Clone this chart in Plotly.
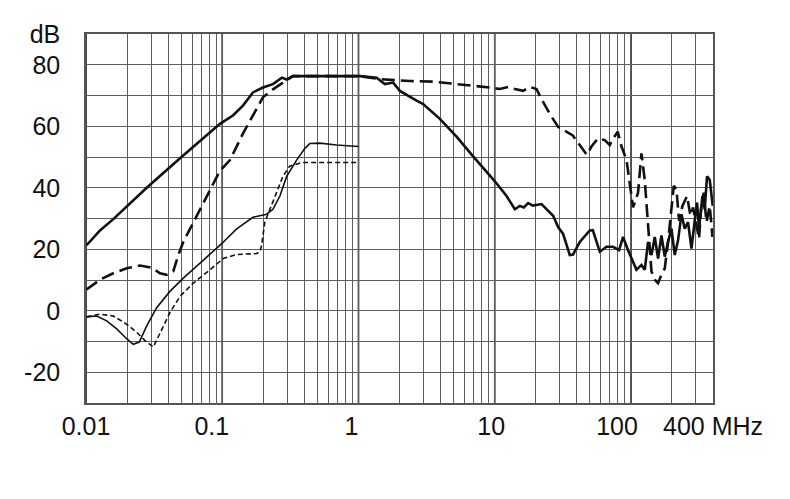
import numpy as np
import plotly.graph_objects as go

# Frequencies in MHz, levels in dB
freq_a = [0.0101, 0.01267, 0.01586, 0.0279, 0.049, 0.0962, 0.1198, 0.1419, 0.168, 0.1989,
          0.2355, 0.2742, 0.297, 0.33, 0.617, 1.024, 1.358, 1.562, 1.797, 2.013, 2.669,
          2.984, 3.956, 5.245, 6.941, 8.707, 10.02, 12.21, 14.05, 15.28, 16.35, 17.58,
          19.04, 22.05, 23.99, 26.83, 29.19, 31.76, 35.56, 37.6, 42.11, 49.86, 52.45,
          59.03, 66.12, 73.9, 81.8, 87.5, 95.2, 109.7, 119.4, 126.2, 133.5, 141.4, 149.5,
          158.1, 167.4, 177.0, 187.2, 198.2, 209.6, 221.6, 234.7, 248.1, 262.4, 277.9,
          293.8, 305.5, 315.9, 334.6, 347.8, 361.6, 378.5, 398.2]
db_a = [21.3, 26.1, 29.8, 40.0, 49.6, 60.8, 63.5, 66.7, 71.0, 72.6,
        73.7, 75.8, 75.2, 76.3, 76.3, 76.3, 75.8, 73.7, 74.2, 71.5, 68.3,
        67.2, 62.4, 56.6, 50.2, 45.4, 42.1, 37.3, 33.0, 34.1, 33.6, 35.0,
        34.2, 34.7, 33.0, 30.9, 27.2, 25.0, 18.1, 18.3, 22.4, 26.1, 26.2,
        19.2, 20.8, 20.8, 19.7, 24.0, 19.7, 13.3, 14.9, 13.3, 22.4, 18.1, 24.0,
        17.0, 24.5, 17.6, 22.4, 26.7, 18.1, 22.9, 31.4, 26.7, 28.8, 20.2,
        29.3, 35.2, 26.7, 37.3, 33.0, 43.7, 42.6, 34.1]

freq_b = [0.0101, 0.01267, 0.01586, 0.01989, 0.0249, 0.0303, 0.0349, 0.0391, 0.0437, 0.0476,
          0.0518, 0.0686, 0.0962, 0.1139, 0.1419, 0.168, 0.1989, 0.2355, 0.2788, 0.33,
          0.617, 1.024, 1.435, 2.384, 3.534, 4.953, 6.941, 9.21, 10.9, 12.54, 14.05,
          16.16, 18.1, 20.26, 22.05, 25.37, 29.19, 37.4, 47.4, 51.3, 57.07, 64.23, 69.9,
          73.9, 80.0, 85.2, 92.7, 98.0, 103.6, 112.7, 119.4, 126.2, 133.5, 141.4, 149.5,
          158.1, 167.4, 177.0, 187.2, 198.2, 206.1, 215.7, 225.4, 238.7, 258.0, 273.3,
          285.6, 315.9, 329.0, 342.1, 358.1, 378.5, 396.2]
db_b = [6.9, 10.1, 12.2, 13.8, 14.7, 14.0, 12.2, 11.7, 12.8, 18.1,
        22.4, 33.0, 45.5, 49.0, 57.6, 63.5, 69.4, 72.0, 74.2, 76.3,
        76.3, 76.3, 75.3, 74.7, 74.5, 73.9, 73.1, 72.6, 72.1, 72.8, 72.1,
        71.5, 72.8, 72.1, 68.8, 64.0, 59.8, 57.0, 50.7, 53.4, 56.0, 55.5, 53.9,
        56.0, 58.2, 53.4, 49.1, 41.6, 33.6, 38.4, 51.2, 42.6, 26.7, 12.8, 10.1,
        9.0, 11.7, 13.8, 22.4, 32.0, 40.6, 39.5, 29.3, 34.1, 37.3, 30.9,
        33.6, 23.4, 34.7, 38.4, 28.8, 34.1, 24.0]

freq_c = [0.0101, 0.01198, 0.01419, 0.0168, 0.01989, 0.02223, 0.0246, 0.0279, 0.033, 0.0413,
          0.0518, 0.0686, 0.0859, 0.099, 0.1276, 0.168, 0.2118, 0.2355, 0.265, 0.297,
          0.3515, 0.4045, 0.44, 0.521, 0.691, 1.0]
db_c = [-2.0, -1.7, -3.3, -5.9, -9.1, -10.9, -10.2, -4.9, 1.0, 6.3,
        10.6, 15.4, 19.2, 21.8, 26.6, 30.4, 31.4, 33.0, 37.3, 43.7,
        49.0, 52.8, 54.4, 54.5, 53.9, 53.4]

freq_d = [0.0101, 0.01267, 0.01586, 0.01989, 0.02355, 0.0271, 0.0312, 0.0349, 0.0413, 0.049,
          0.0613, 0.0813, 0.1017, 0.1276, 0.1788, 0.1887, 0.1946, 0.2054, 0.2355, 0.2788,
          0.3127, 0.3824, 1.0]
db_d = [-2.0, -1.1, -1.7, -4.4, -7.0, -9.7, -11.8, -7.5, -0.6, 4.7,
        9.0, 13.3, 17.0, 18.3, 18.6, 19.2, 21.3, 28.8, 35.2, 43.7,
        47.0, 48.2, 48.2]

# Axis ticks (non-breaking spaces nudge the labels as in the original)
NB = "\u00a0"
x_label_vals = [0.01, 0.1, 1, 10, 100, 400]
x_label_text = ["0.01", "0.1" + NB * 3, "1" + NB * 2, "10" + NB, "100" + NB * 4, "400 MHz"]
decades = [0.01, 0.1, 1, 10, 100]
y_label_vals = [-20, 0, 20, 40, 60, 80, 90]
y_label_text = ["-20", "0", "20", "40", "60", "80", "dB"]

x_min, x_max = 0.01, 400
y_min, y_max = -30, 90

# grid values: 1..9 in every decade up to 400
x_grid = []
for d in decades:
    for m in range(1, 10):
        v = d * m
        if v <= x_max * 1.0001:
            x_grid.append(v)
y_grid = list(range(y_min, y_max + 1, 10))

x_ticktext = []
for v in x_grid:
    txt = ""
    for lv, lt in zip(x_label_vals, x_label_text):
        if abs(np.log10(v) - np.log10(lv)) < 1e-6:
            txt = lt
    x_ticktext.append(txt)
y_ticktext = []
for v in y_grid:
    txt = ""
    for lv, lt in zip(y_label_vals, y_label_text):
        if v == lv:
            txt = lt
    y_ticktext.append(txt)

fig = go.Figure()
fig.add_trace(go.Scatter(x=freq_b, y=db_b, mode="lines",
                         line=dict(color="#111111", width=2.6, dash="13px,6px")))
fig.add_trace(go.Scatter(x=freq_d, y=db_d, mode="lines",
                         line=dict(color="#111111", width=1.6, dash="5px,3px")))
fig.add_trace(go.Scatter(x=freq_c, y=db_c, mode="lines",
                         line=dict(color="#111111", width=1.6)))
fig.add_trace(go.Scatter(x=freq_a, y=db_a, mode="lines",
                         line=dict(color="#111111", width=2.6)))

shapes = []
for d in decades:
    shapes.append(dict(type="line", xref="x", yref="paper",
                       x0=d, x1=d, y0=0, y1=1,
                       line=dict(color="#1a1a1a", width=1.6), layer="below"))

fig.update_layout(
    width=790, height=499,
    margin=dict(l=78, r=85, t=21, b=104),
    paper_bgcolor="white", plot_bgcolor="white",
    showlegend=False,
    font=dict(family="Liberation Sans, Arial, sans-serif", size=25, color="#111111"),
    shapes=shapes,
    xaxis=dict(type="log", range=[np.log10(x_min), np.log10(x_max)],
               tickmode="array", tickvals=x_grid, ticktext=x_ticktext,
               tickangle=0,
               showgrid=True, gridcolor="#5e5e5e", gridwidth=1.3,
               ticks="", showline=True, linecolor="#555555", linewidth=1.5,
               mirror=True, zeroline=False, ticklabelstandoff=0),
    yaxis=dict(range=[y_min, y_max], tickmode="array",
               tickvals=y_grid, ticktext=y_ticktext,
               showgrid=True, gridcolor="#5e5e5e", gridwidth=1.3,
               ticks="", showline=True, linecolor="#555555", linewidth=1.5,
               mirror=True, zeroline=False, ticklabelstandoff=19),
)

fig.write_html("out.html")
